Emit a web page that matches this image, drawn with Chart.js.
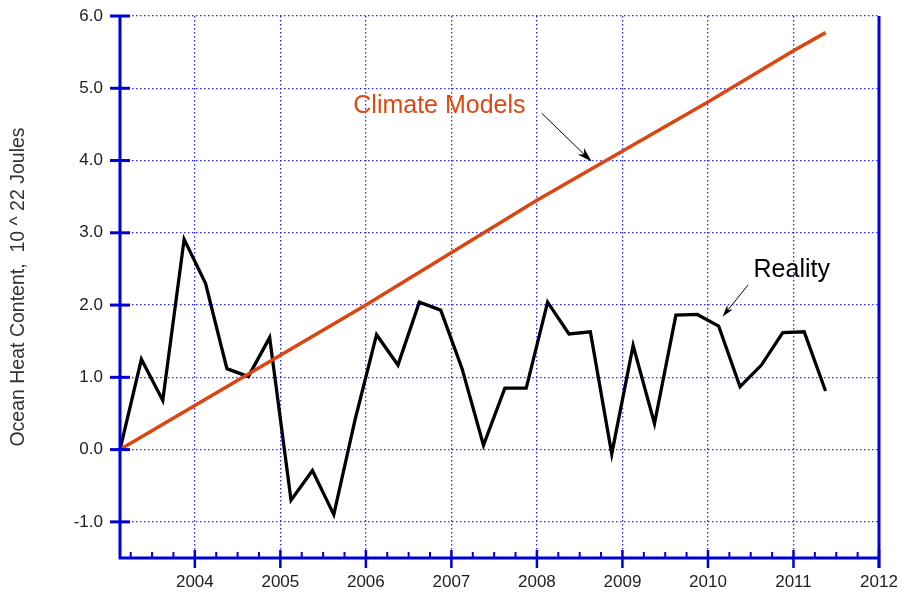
<!DOCTYPE html>
<html>
<head>
<meta charset="utf-8">
<script src="https://cdn.jsdelivr.net/npm/chart.js@4"></script>
<style>
  html, body { margin: 0; padding: 0; background: #fff; }
  #wrap { width: 901px; height: 592px; }
</style>
</head>
<body>
<div id="wrap"><canvas id="myChart" width="901" height="592"></canvas></div>
<script>
// quarterly observations
const years = [2003.125, 2003.375, 2003.625, 2003.875, 2004.125, 2004.375, 2004.625, 2004.875,
  2005.125, 2005.375, 2005.625, 2005.875, 2006.125, 2006.375, 2006.625, 2006.875,
  2007.125, 2007.375, 2007.625, 2007.875, 2008.125, 2008.375, 2008.625, 2008.875,
  2009.125, 2009.375, 2009.625, 2009.875, 2010.125, 2010.375, 2010.625, 2010.875,
  2011.125, 2011.375];
const reality = [0.0, 1.25, 0.68, 2.91, 2.30, 1.12, 1.01, 1.55,
  -0.70, -0.29, -0.90, 0.42, 1.59, 1.17, 2.04, 1.93,
  1.12, 0.06, 0.85, 0.85, 2.04, 1.60, 1.63, -0.06,
  1.44, 0.36, 1.86, 1.87, 1.71, 0.87, 1.17, 1.62,
  1.63, 0.81];

// model projection
const modelYears = [2003.125, 2004, 2006, 2008, 2010, 2011, 2011.375];
const models = [0.0, 0.61, 2.0, 3.45, 4.81, 5.52, 5.77];

const xTicks = [2004, 2005, 2006, 2007, 2008, 2009, 2010, 2011, 2012];
const yTicks = [-1, 0, 1, 2, 3, 4, 5, 6];

const blue = "#0000d8";
const dotBlue = "#2b2bf0";

// axes, tick marks, annotation texts and arrows
const decorations = {
  id: "decorations",
  afterDraw(chart) {
    const c = chart.ctx;
    const a = chart.chartArea;
    const xs = chart.scales.x;
    const ys = chart.scales.y;
    c.save();
    c.strokeStyle = blue;
    c.lineCap = "butt";

    // axis lines
    c.lineWidth = 3;
    c.beginPath();
    c.moveTo(a.left, a.top);
    c.lineTo(a.left, a.bottom);
    c.lineTo(a.right, a.bottom);
    c.moveTo(a.right, a.top);
    c.lineTo(a.right, a.bottom + 10);
    c.stroke();

    // y ticks
    yTicks.forEach((v) => {
      const py = ys.getPixelForValue(v);
      c.beginPath();
      c.moveTo(a.left - 10, py);
      c.lineTo(a.left + 10, py);
      c.stroke();
    });

    // x major ticks
    c.lineWidth = 2.5;
    xTicks.forEach((v) => {
      const px = xs.getPixelForValue(v);
      c.beginPath();
      c.moveTo(px, a.bottom - 8);
      c.lineTo(px, a.bottom + 10);
      c.stroke();
    });
    // quarter ticks
    c.lineWidth = 2;
    for (let v = 2003.25; v < 2012; v += 0.25) {
      if (Math.abs(v - Math.round(v)) < 0.01) continue;
      const px = xs.getPixelForValue(v);
      c.beginPath();
      c.moveTo(px, a.bottom - 6);
      c.lineTo(px, a.bottom);
      c.stroke();
    }

    // labels
    c.font = "25px 'Liberation Sans', Arial, sans-serif";
    c.textAlign = "center";
    c.textBaseline = "middle";
    c.fillStyle = "#e04812";
    c.fillText("Climate Models", xs.getPixelForValue(2006.86), ys.getPixelForValue(4.755));
    c.fillStyle = "#000";
    c.fillText("Reality", xs.getPixelForValue(2010.98), ys.getPixelForValue(2.485));

    function arrow(x1, y1, x2, y2, len, wid) {
      const p1 = [xs.getPixelForValue(x1), ys.getPixelForValue(y1)];
      const p2 = [xs.getPixelForValue(x2), ys.getPixelForValue(y2)];
      const ang = Math.atan2(p2[1] - p1[1], p2[0] - p1[0]);
      c.strokeStyle = "#000";
      c.fillStyle = "#000";
      c.lineWidth = 1;
      c.beginPath();
      c.moveTo(p1[0], p1[1]);
      c.lineTo(p2[0] - Math.cos(ang) * len * 0.6, p2[1] - Math.sin(ang) * len * 0.6);
      c.stroke();
      c.beginPath();
      c.moveTo(p2[0], p2[1]);
      c.lineTo(p2[0] - Math.cos(ang) * len + Math.sin(ang) * wid / 2,
               p2[1] - Math.sin(ang) * len - Math.cos(ang) * wid / 2);
      c.lineTo(p2[0] - Math.cos(ang) * len * 0.7, p2[1] - Math.sin(ang) * len * 0.7);
      c.lineTo(p2[0] - Math.cos(ang) * len - Math.sin(ang) * wid / 2,
               p2[1] - Math.sin(ang) * len + Math.cos(ang) * wid / 2);
      c.closePath();
      c.fill();
    }
    arrow(2008.056, 4.654, 2008.64, 3.985, 15, 9);
    arrow(2010.468, 2.277, 2010.17, 1.84, 12, 7);

    c.restore();
  },
};

const ctx = document.getElementById("myChart");

new Chart(ctx, {
  type: "scatter",
  data: {
    datasets: [
      {
        label: "Reality",
        data: years.map((x, i) => ({ x: x, y: reality[i] })),
        showLine: true,
        borderColor: "#000",
        borderWidth: 3.3,
        pointRadius: 0,
        tension: 0,
        borderJoinStyle: "miter",
        order: 2,
      },
      {
        label: "Climate Models",
        data: modelYears.map((x, i) => ({ x: x, y: models[i] })),
        showLine: true,
        borderColor: "#dc4410",
        borderWidth: 3.5,
        pointRadius: 0,
        tension: 0,
        order: 1,
      },
    ],
  },
  options: {
    responsive: false,
    animation: false,
    layout: { padding: { top: 16, right: 22, left: 0, bottom: 0 } },
    plugins: {
      legend: { display: false },
      tooltip: { enabled: false },
    },
    scales: {
      x: {
        type: "linear",
        min: 2003.125,
        max: 2012,
        afterBuildTicks: (scale) => {
          scale.ticks = xTicks.map((v) => ({ value: v }));
        },
        afterFit: (scale) => {
          scale.height = 34;
          scale.paddingLeft = 0;
          scale.paddingRight = 0;
        },
        grid: {
          color: (c) => (c.tick && c.tick.value === 2012 ? "rgba(0,0,0,0)" : dotBlue),
          lineWidth: 1.3,
          drawTicks: false,
        },
        border: { display: false, dash: [1.5, 2.5] },
        ticks: {
          padding: 14,
          color: "#222",
          font: { family: "'Liberation Sans', Arial, sans-serif", size: 17 },
          maxRotation: 0,
          callback: (v) => String(v),
        },
      },
      y: {
        type: "linear",
        min: -1.5,
        max: 6,
        afterBuildTicks: (scale) => {
          scale.ticks = yTicks.map((v) => ({ value: v }));
        },
        afterFit: (scale) => {
          scale.width = 120;
          scale.paddingTop = 0;
          scale.paddingBottom = 0;
        },
        grid: {
          color: dotBlue,
          lineWidth: 1.3,
          drawTicks: false,
        },
        border: { display: false, dash: [1.5, 2.5] },
        ticks: {
          padding: 17,
          color: "#222",
          font: { family: "'Liberation Sans', Arial, sans-serif", size: 17 },
          callback: (v) => v.toFixed(1),
        },
        title: {
          display: true,
          text: "Ocean Heat Content,  10 ^ 22 Joules",
          color: "#333",
          font: { family: "'Liberation Sans', Arial, sans-serif", size: 19.5 },
          padding: { top: 7, bottom: 0 },
        },
      },
    },
  },
  plugins: [decorations],
});
</script>
</body>
</html>
